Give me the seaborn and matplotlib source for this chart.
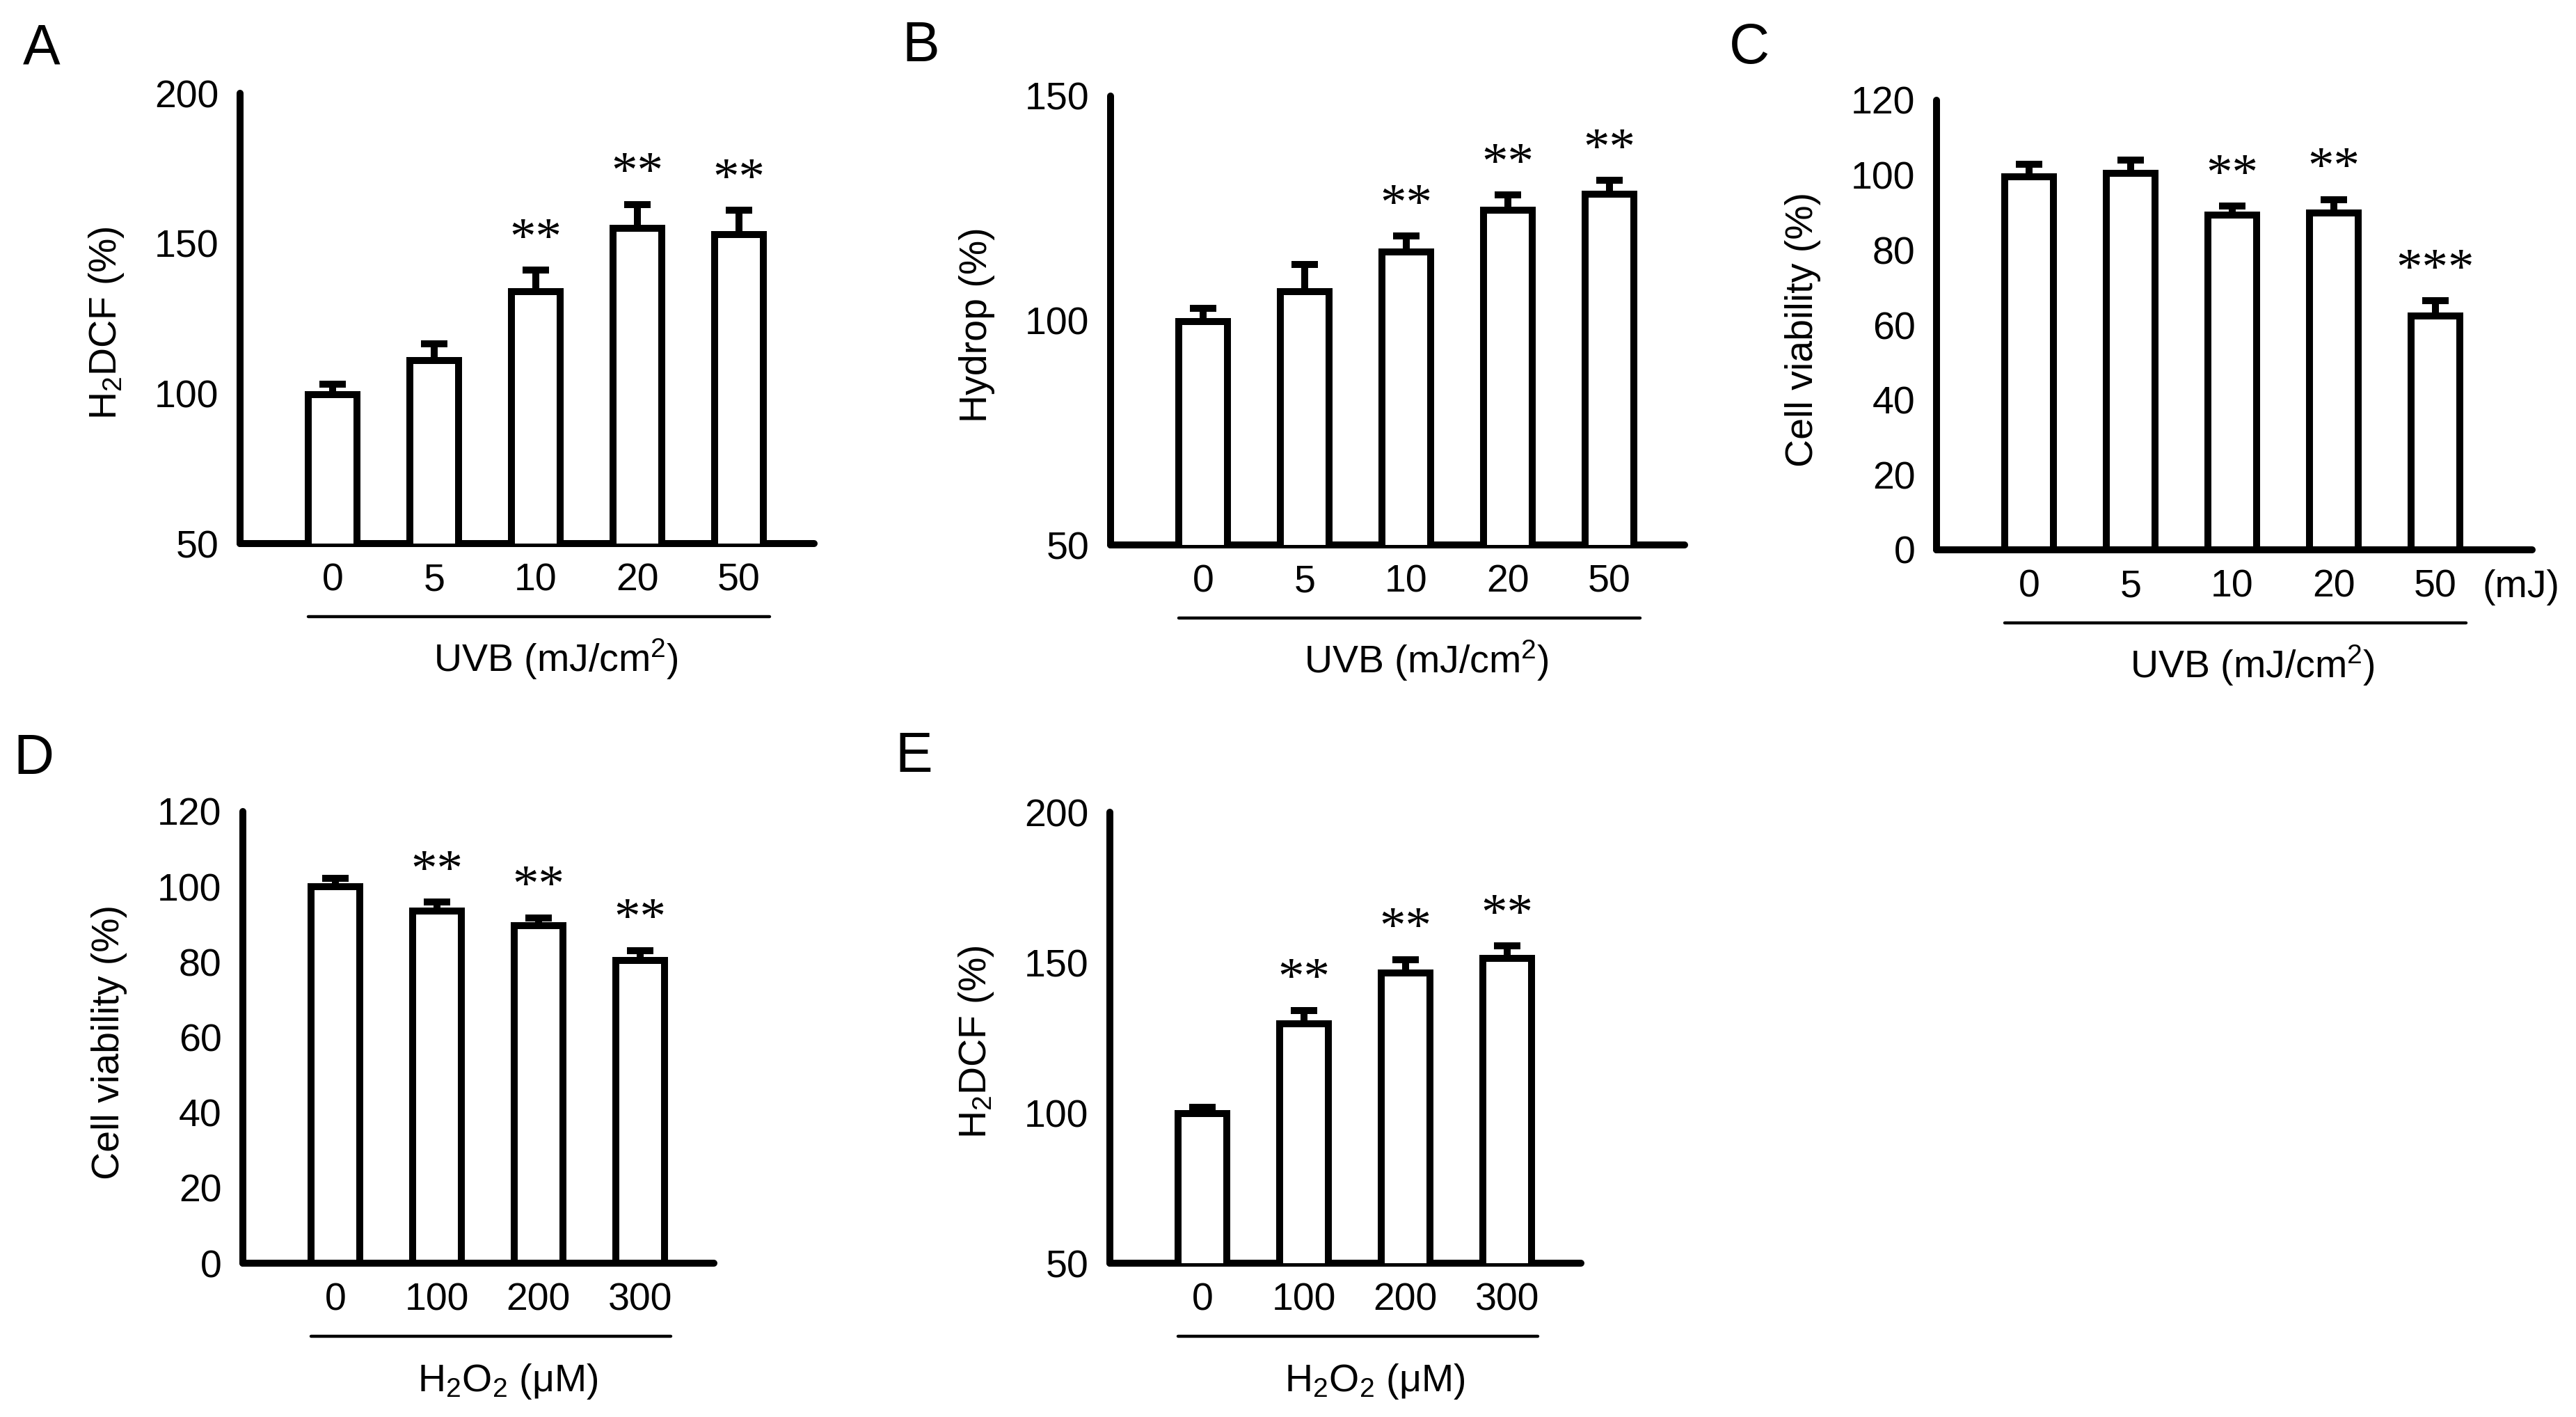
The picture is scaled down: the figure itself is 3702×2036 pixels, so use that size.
import numpy as np
import matplotlib
matplotlib.use('Agg')
import matplotlib.pyplot as plt
import matplotlib.transforms as mtransforms
import seaborn as sns

# ---- data ----
uvb_doses = ['0', '5', '10', '20', '50']
h2o2_doses = ['0', '100', '200', '300']

# A: H2DCF after UVB
h2dcf_uvb = [99.5, 111, 134, 155, 153]
h2dcf_uvb_err = [3.5, 5.5, 7, 8, 8]
h2dcf_uvb_sig = ['', '', '**', '**', '**']

# B: Hydrop after UVB
hydrop_uvb = [99.7, 106.5, 115.3, 124.5, 128.2]
hydrop_uvb_err = [3, 6, 3.5, 3.5, 3]
hydrop_uvb_sig = ['', '', '**', '**', '**']

# C: cell viability after UVB
viab_uvb = [99.6, 100.5, 89.3, 90, 62.5]
viab_uvb_err = [3.3, 3.5, 2.5, 3.5, 4]
viab_uvb_sig = ['', '', '**', '**', '***']

# D: cell viability after H2O2
viab_h2o2 = [100, 93.6, 89.7, 80.5]
viab_h2o2_err = [2.2, 2.3, 2.1, 2.6]
viab_h2o2_sig = ['', '**', '**', '**']

# E: H2DCF after H2O2
h2dcf_h2o2 = [99.8, 129.6, 146.5, 151.3]
h2dcf_h2o2_err = [2, 4.5, 4.5, 4.2]
h2dcf_h2o2_sig = ['', '**', '**', '**']

# ---- style ----
sns.set_theme(style='white')
plt.rcParams['font.family'] = ['Liberation Sans', 'DejaVu Sans']
plt.rcParams['mathtext.fontset'] = 'custom'
plt.rcParams['mathtext.rm'] = 'Liberation Sans'
plt.rcParams['mathtext.it'] = 'Liberation Sans:italic'
plt.rcParams['mathtext.bf'] = 'Liberation Sans:bold'
plt.rcParams['text.color'] = 'black'
plt.rcParams['axes.edgecolor'] = 'black'
plt.rcParams['xtick.color'] = 'black'
plt.rcParams['ytick.color'] = 'black'

W, H = 3702, 2036
DPI = 200
LW = 3.6        # heavy line width (pt)
FS = 20         # tick / label font size
STEP = 146      # pixels between bar centres

fig = plt.figure(figsize=(W / DPI, H / DPI), dpi=DPI)


def add_panel(left, top, bottom, xlim):
    right = left + (xlim[1] - xlim[0]) * STEP
    return fig.add_axes([left / W, 1 - bottom / H, (right - left) / W, (bottom - top) / H])


def dots(ax, base, dx=0, dy=0):
    return mtransforms.offset_copy(base, fig=fig, x=dx, y=dy, units='dots')


def draw_panel(ax, cats, vals, errs, sig, ylim, yticks, ylabel, xlabel, xlim, unit=None):
    n = len(cats)
    sns.barplot(x=cats, y=vals, order=cats, ax=ax, color='white', saturation=1,
                edgecolor='black', linewidth=LW, width=0.48, errorbar=None, zorder=3)
    ax.errorbar(np.arange(n), vals, yerr=[np.zeros(n), errs], fmt='none',
                ecolor='black', elinewidth=LW, capsize=6.7, capthick=LW, zorder=2)
    for i, (v, e, s) in enumerate(zip(vals, errs, sig)):
        if s:
            ax.text(i, v + e, s, transform=dots(ax, ax.transData, dy=42),
                    ha='center', va='center', fontsize=27, family='Liberation Serif')

    ax.set_xlim(xlim)
    ax.set_ylim(ylim)
    ax.set_yticks(yticks)
    ax.set_xlabel('')
    ax.set_ylabel('')
    sns.despine(ax=ax)
    for side in ['left', 'bottom']:
        ax.spines[side].set_linewidth(LW)
        ax.spines[side].set_capstyle('round')
    ax.tick_params(axis='y', direction='in', length=10, width=LW, pad=11, labelsize=FS)
    ax.tick_params(axis='x', length=0, pad=10, labelsize=FS)
    ax.patch.set_alpha(0)

    # group line + x title
    xa = ax.get_xaxis_transform()
    ax.plot([-0.24, n - 1 + 0.3], [0, 0], transform=dots(ax, xa, dy=-105),
            color='black', lw=1.6, clip_on=False, solid_capstyle='round')
    ax.text((n - 1) / 2 + 0.2, 0, xlabel, transform=dots(ax, xa, dy=-184),
            ha='center', va='baseline', fontsize=FS)
    ax.text(0, 0.49, ylabel, transform=dots(ax, ax.transAxes, dx=-192),
            rotation=90, ha='center', va='center', fontsize=FS)
    if unit:
        ax.text(n - 1 + 0.84, 0, unit, transform=dots(ax, xa, dy=-54),
                ha='center', va='center', fontsize=FS)


uvb_title = 'UVB (mJ/cm$^{2}$)'
h2o2_title = 'H$_{2}$O$_{2}$ (\u03bcM)'
h2dcf_title = 'H$_{2}$DCF (%)'

xl5 = (-0.91, 4.74)
xl5c = (-0.91, 4.95)
xl4 = (-0.91, 3.73)

axA = add_panel(345, 134, 781, xl5)
draw_panel(axA, uvb_doses, h2dcf_uvb, h2dcf_uvb_err, h2dcf_uvb_sig,
           (50, 200), [50, 100, 150, 200], h2dcf_title, uvb_title, xl5)

axB = add_panel(1596, 138, 783, xl5)
draw_panel(axB, uvb_doses, hydrop_uvb, hydrop_uvb_err, hydrop_uvb_sig,
           (50, 150), [50, 100, 150], 'Hydrop (%)', uvb_title, xl5)

axC = add_panel(2783, 144, 790, xl5c)
draw_panel(axC, uvb_doses, viab_uvb, viab_uvb_err, viab_uvb_sig,
           (0, 120), list(range(0, 121, 20)), 'Cell viability (%)', uvb_title, xl5c,
           unit='(mJ)')

axD = add_panel(349, 1166, 1815, xl4)
draw_panel(axD, h2o2_doses, viab_h2o2, viab_h2o2_err, viab_h2o2_sig,
           (0, 120), list(range(0, 121, 20)), 'Cell viability (%)', h2o2_title, xl4)

axE = add_panel(1595, 1167, 1815, xl4)
draw_panel(axE, h2o2_doses, h2dcf_h2o2, h2dcf_h2o2_err, h2dcf_h2o2_sig,
           (50, 200), [50, 100, 150, 200], h2dcf_title, h2o2_title, xl4)

letters = {'A': (60, 70), 'B': (1323, 67), 'C': (2514, 70), 'D': (48, 1091), 'E': (1313, 1088)}
for k, (x, y) in letters.items():
    fig.text(x / W, 1 - y / H, k, ha='center', va='center', fontsize=29)

fig.savefig('out.png', dpi=DPI, facecolor='white')
